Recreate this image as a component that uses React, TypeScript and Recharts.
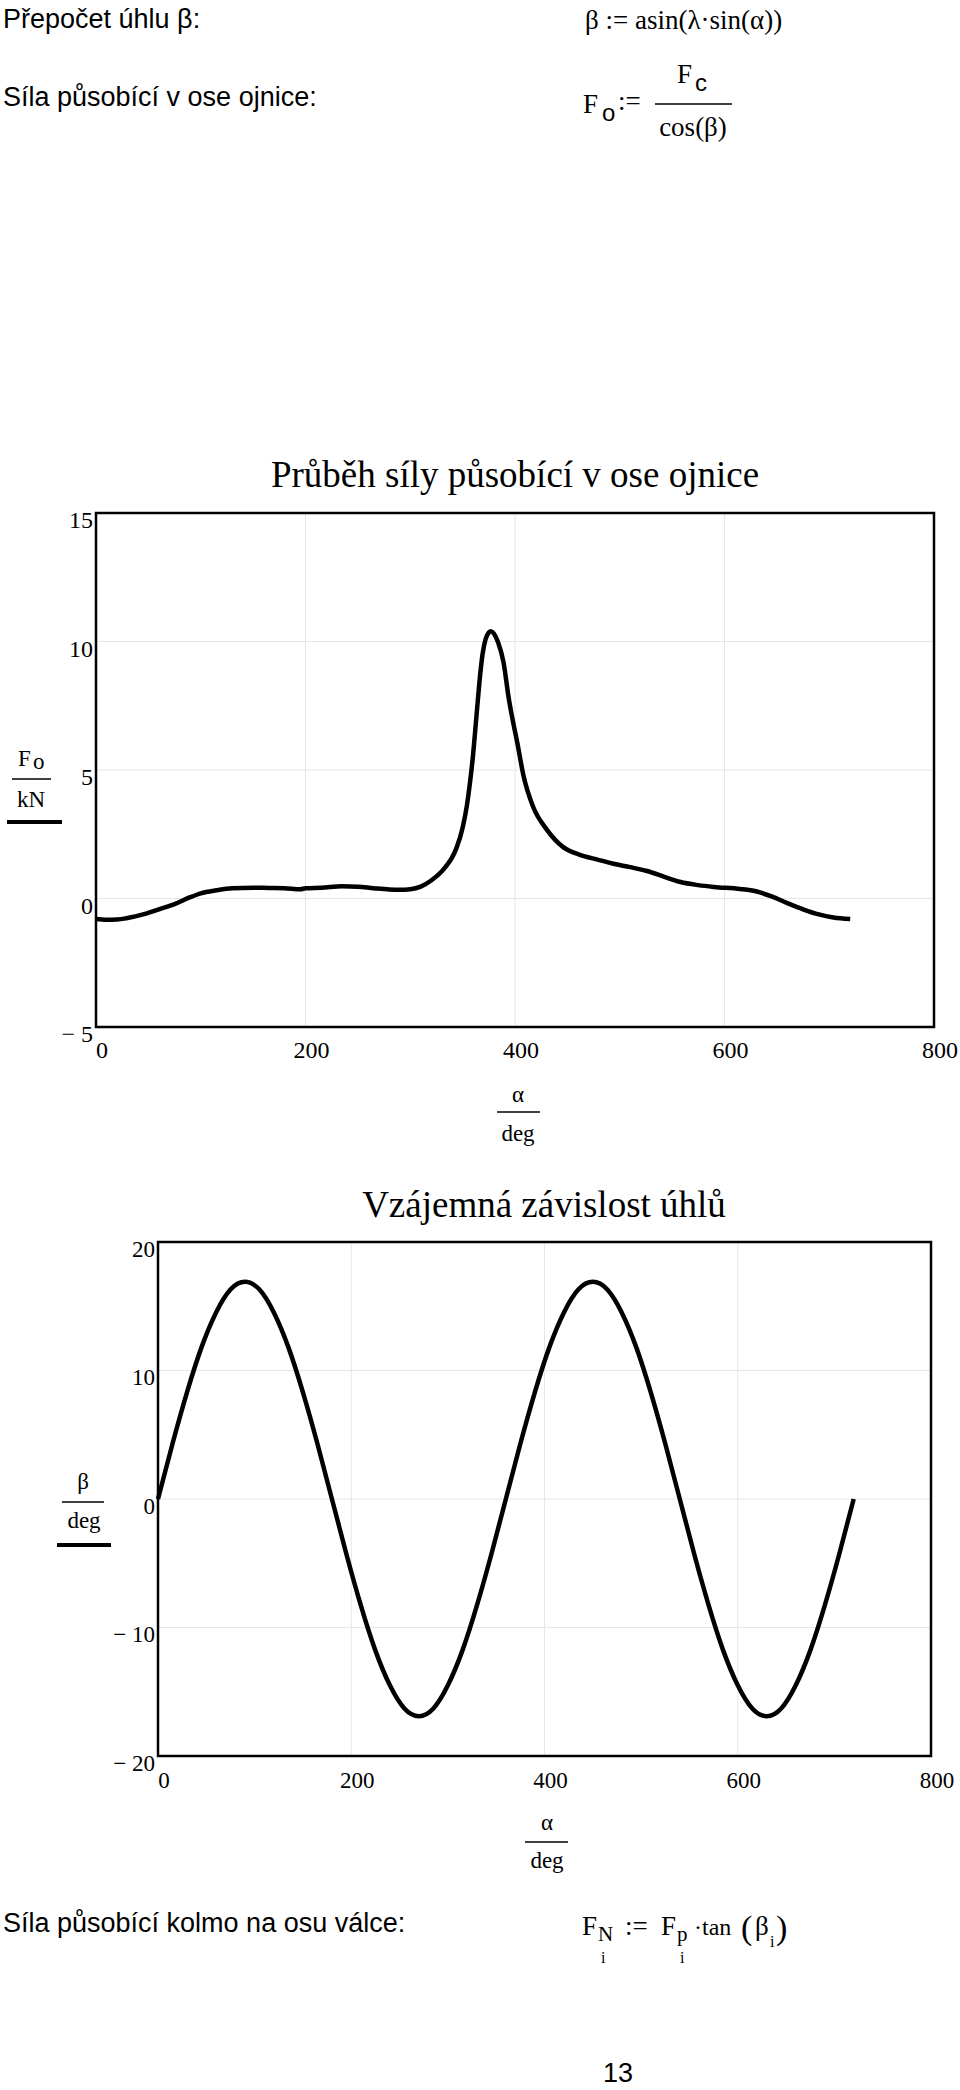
import React from 'react';
import { LineChart, Line, XAxis, YAxis, CartesianGrid, ReferenceArea } from 'recharts';

// Průběh síly působící v ose ojnice (F_o / kN vs alpha / deg)
const ALPHA_F = [0, 10, 20, 30, 45, 60, 75, 90, 100, 115, 130, 150, 165, 180, 195, 200, 215, 235, 250, 265, 280, 290, 300, 310, 320, 330, 335, 340, 344, 350, 354, 357, 360, 363, 366, 369, 372, 375, 377, 380, 384, 389, 394, 398, 402, 408, 417, 430, 446, 462, 478, 494, 510, 526, 542, 558, 575, 590, 615, 630, 645, 660, 675, 690, 704, 720];
const FORCE_KN = [-0.8, -0.83, -0.82, -0.76, -0.62, -0.42, -0.22, 0.05, 0.2, 0.32, 0.4, 0.42, 0.41, 0.4, 0.36, 0.4, 0.42, 0.48, 0.46, 0.4, 0.35, 0.34, 0.36, 0.46, 0.7, 1.05, 1.3, 1.6, 1.95, 2.75, 3.6, 4.5, 5.6, 7.0, 8.4, 9.5, 10.1, 10.35, 10.4, 10.3, 9.95, 9.2, 7.8, 6.9, 6.1, 4.8, 3.6, 2.7, 2.0, 1.7, 1.52, 1.35, 1.22, 1.07, 0.85, 0.64, 0.52, 0.45, 0.37, 0.28, 0.08, -0.18, -0.42, -0.62, -0.74, -0.8];

// Vzájemná závislost úhlů (beta / deg vs alpha / deg)
const ALPHA_B = [0, 15, 30, 45, 60, 75, 90, 105, 120, 135, 150, 165, 180, 195, 210, 225, 240, 255, 270, 285, 300, 315, 330, 345, 360, 375, 390, 405, 420, 435, 450, 465, 480, 495, 510, 525, 540, 555, 570, 585, 600, 615, 630, 645, 660, 675, 690, 705, 720];
const BETA_DEG = [0, 4.3, 8.3, 11.8, 14.5, 16.3, 16.9, 16.3, 14.5, 11.8, 8.3, 4.3, 0, -4.3, -8.3, -11.8, -14.5, -16.3, -16.9, -16.3, -14.5, -11.8, -8.3, -4.3, 0, 4.3, 8.3, 11.8, 14.5, 16.3, 16.9, 16.3, 14.5, 11.8, 8.3, 4.3, 0, -4.3, -8.3, -11.8, -14.5, -16.3, -16.9, -16.3, -14.5, -11.8, -8.3, -4.3, 0];

const X_TICKS = [0, 200, 400, 600, 800];
const F_TICKS = [-5, 0, 5, 10, 15];
const B_TICKS = [-20, -10, 0, 10, 20];

const SERIF = "'Liberation Serif', 'Times New Roman', serif";
const SANS = "'Liberation Sans', Arial, sans-serif";

const forceRows = ALPHA_F.map((a, i) => ({ alpha: a, fo: FORCE_KN[i] }));
const betaRows = ALPHA_B.map((a, i) => ({ alpha: a, beta: BETA_DEG[i] }));

const fmt = (v: number) => (v < 0 ? `\u2212 ${Math.abs(v)}` : String(v));

const yTick = (fs: number) => (props: any) => (
  <text x={props.x} y={props.y + 7} textAnchor="end" dominantBaseline="central" fontFamily={SERIF} fontSize={fs} fill="#000">
    {fmt(props.payload.value)}
  </text>
);

const xTick = (fs: number, off: number) => (props: any) => (
  <text x={props.x + 6} y={props.y + off} textAnchor="middle" dominantBaseline="central" fontFamily={SERIF} fontSize={fs} fill="#000">
    {props.payload.value}
  </text>
);

// fraction label like Mathcad's "F_o / kN"
function Frac({ top, bottom, lineY, x1, x2, underline }: any) {
  return (
    <g>
      {top}
      <line x1={x1} x2={x2} y1={lineY} y2={lineY} stroke="#000" strokeWidth={1.5} />
      {bottom}
      {underline && <line x1={underline[0]} x2={underline[1]} y1={underline[2]} y2={underline[2]} stroke="#000" strokeWidth={4} />}
    </g>
  );
}

export default function App() {
  return (
    <div style={{ position: 'absolute', left: 0, top: 0, width: 960, height: 2090, background: '#fff' }}>
      <div style={{ position: 'absolute', left: 0, top: 440 }}>
        <LineChart width={960} height={640} data={forceRows} margin={{ top: 73, right: 26, bottom: 13, left: 0 }}>
          <CartesianGrid stroke="#e6e6e6" strokeWidth={1} />
          <XAxis dataKey="alpha" type="number" domain={[0, 800]} ticks={X_TICKS} interval={0} axisLine={false} tickLine={false} tickSize={0} tickMargin={0} height={40} tick={xTick(24, 23)} />
          <YAxis type="number" domain={[-5, 15]} ticks={F_TICKS} interval={0} axisLine={false} tickLine={false} tickSize={0} tickMargin={3} width={96} tick={yTick(24)} />
          <ReferenceArea x1={0} x2={800} y1={-5} y2={15} fill="none" stroke="#000" strokeWidth={2.5} ifOverflow="visible" />
          <Line dataKey="fo" type="monotone" stroke="#000" strokeWidth={4.5} dot={false} isAnimationActive={false} />
        </LineChart>
      </div>

      <div style={{ position: 'absolute', left: 0, top: 1180 }}>
        <LineChart width={960} height={640} data={betaRows} margin={{ top: 62, right: 29, bottom: 24, left: 0 }}>
          <CartesianGrid stroke="#e6e6e6" strokeWidth={1} />
          <XAxis dataKey="alpha" type="number" domain={[0, 800]} ticks={X_TICKS} interval={0} axisLine={false} tickLine={false} tickSize={0} tickMargin={0} height={40} tick={xTick(23, 24)} />
          <YAxis type="number" domain={[-20, 20]} ticks={B_TICKS} interval={0} axisLine={false} tickLine={false} tickSize={0} tickMargin={3} width={158} tick={yTick(23)} />
          <ReferenceArea x1={0} x2={800} y1={-20} y2={20} fill="none" stroke="#000" strokeWidth={2.5} ifOverflow="visible" />
          <Line dataKey="beta" type="natural" stroke="#000" strokeWidth={4.5} dot={false} isAnimationActive={false} />
        </LineChart>
      </div>

      <svg width={960} height={2090} style={{ position: 'absolute', left: 0, top: 0, pointerEvents: 'none' }}>
        {/* top text */}
        <text x={3} y={28} fontFamily={SANS} fontSize={27}>Přepočet úhlu β:</text>
        <text x={585} y={29} fontFamily={SERIF} fontSize={27}>β := asin(λ·sin(α))</text>
        <text x={3} y={106} fontFamily={SANS} fontSize={27}>Síla působící v ose ojnice:</text>
        <text x={583} y={113} fontFamily={SERIF} fontSize={27}>F</text>
        <text x={602} y={121} fontFamily={SANS} fontSize={24}>o</text>
        <text x={618} y={110} fontFamily={SERIF} fontSize={27}>:=</text>
        <text x={677} y={83} fontFamily={SERIF} fontSize={27}>F</text>
        <text x={695} y={91} fontFamily={SANS} fontSize={24}>c</text>
        <line x1={655} x2={732} y1={104} y2={104} stroke="#000" strokeWidth={1.5} />
        <text x={693} y={136} textAnchor="middle" fontFamily={SERIF} fontSize={27}>cos(β)</text>

        {/* chart 1 labels */}
        <text x={515} y={487} textAnchor="middle" fontFamily={SERIF} fontSize={37}>Průběh síly působící v ose ojnice</text>
        <Frac
          lineY={779} x1={12} x2={51}
          top={<g><text x={18} y={766} fontFamily={SERIF} fontSize={23}>F</text><text x={33} y={769} fontFamily={SERIF} fontSize={23}>o</text></g>}
          bottom={<text x={31} y={807} textAnchor="middle" fontFamily={SERIF} fontSize={23}>kN</text>}
          underline={[7, 62, 822]}
        />
        <Frac
          lineY={1112} x1={497} x2={540}
          top={<text x={518} y={1102} textAnchor="middle" fontFamily={SERIF} fontSize={23}>α</text>}
          bottom={<text x={518} y={1141} textAnchor="middle" fontFamily={SERIF} fontSize={23}>deg</text>}
        />

        {/* chart 2 labels */}
        <text x={544} y={1217} textAnchor="middle" fontFamily={SERIF} fontSize={37}>Vzájemná závislost úhlů</text>
        <Frac
          lineY={1502} x1={62} x2={104}
          top={<text x={83} y={1489} textAnchor="middle" fontFamily={SERIF} fontSize={23}>β</text>}
          bottom={<text x={84} y={1528} textAnchor="middle" fontFamily={SERIF} fontSize={23}>deg</text>}
          underline={[57, 111, 1545]}
        />
        <Frac
          lineY={1842} x1={525} x2={568}
          top={<text x={547} y={1830} textAnchor="middle" fontFamily={SERIF} fontSize={23}>α</text>}
          bottom={<text x={547} y={1868} textAnchor="middle" fontFamily={SERIF} fontSize={23}>deg</text>}
        />

        {/* bottom text */}
        <text x={3} y={1932} fontFamily={SANS} fontSize={27}>Síla působící kolmo na osu válce:</text>
        <text x={582} y={1935} fontFamily={SERIF} fontSize={27}>F</text>
        <text x={598} y={1941} fontFamily={SERIF} fontSize={21}>N</text>
        <text x={601} y={1963} fontFamily={SERIF} fontSize={16}>i</text>
        <text x={625} y={1935} fontFamily={SERIF} fontSize={27}>:=</text>
        <text x={661} y={1935} fontFamily={SERIF} fontSize={27}>F</text>
        <text x={677} y={1941} fontFamily={SERIF} fontSize={21}>p</text>
        <text x={680} y={1963} fontFamily={SERIF} fontSize={16}>i</text>
        <text x={694} y={1935} fontFamily={SERIF} fontSize={24}>·tan</text>
        <text x={741} y={1939} fontFamily={SERIF} fontSize={34}>(</text>
        <text x={755} y={1935} fontFamily={SERIF} fontSize={27}>β</text>
        <text x={770} y={1947} fontFamily={SERIF} fontSize={16}>i</text>
        <text x={776} y={1939} fontFamily={SERIF} fontSize={34}>)</text>
        <text x={603} y={2082} fontFamily={SANS} fontSize={27}>13</text>
      </svg>
    </div>
  );
}
